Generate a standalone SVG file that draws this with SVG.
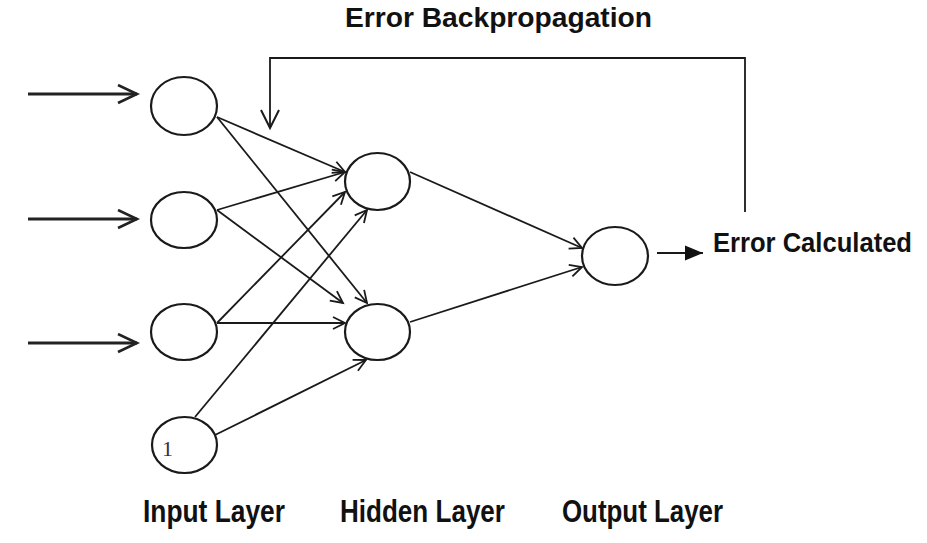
<svg xmlns="http://www.w3.org/2000/svg" width="927" height="543" viewBox="0 0 927 543">
<style>
.node{fill:#fff;stroke:#1a1a1a;stroke-width:2.2}
.edge{fill:none;stroke:#1a1a1a;stroke-width:1.8}
.inarrow{fill:none;stroke:#222;stroke-width:3}
.lbl{font-family:"Liberation Sans",Arial,sans-serif;font-weight:bold;fill:#111}
</style>
<defs>
<marker id="open" markerUnits="userSpaceOnUse" markerWidth="16" markerHeight="16" refX="13" refY="7" orient="auto" viewBox="0 0 16 16">
<path d="M1,1 L13,7 L1,13" fill="none" stroke="#1a1a1a" stroke-width="1.8"/>
</marker>
<marker id="openBig" markerUnits="userSpaceOnUse" markerWidth="24" markerHeight="24" refX="20" refY="10" orient="auto" viewBox="0 0 24 24">
<path d="M1,1 L20,10 L1,19" fill="none" stroke="#222" stroke-width="2.6"/>
</marker>
<marker id="openBack" markerUnits="userSpaceOnUse" markerWidth="24" markerHeight="24" refX="19" refY="10" orient="auto" viewBox="0 0 24 24">
<path d="M1,1 L19,10 L1,19" fill="none" stroke="#1a1a1a" stroke-width="2"/>
</marker>
<marker id="filled" markerUnits="userSpaceOnUse" markerWidth="20" markerHeight="16" refX="18" refY="8" orient="auto" viewBox="0 0 20 16">
<path d="M0,0.5 L18,8 L0,15.5 Z" fill="#111"/>
</marker>
</defs>

<g id="connectors">
<line class="inarrow" x1="28" y1="94" x2="137" y2="94" marker-end="url(#openBig)"/>
<line class="inarrow" x1="28" y1="219" x2="137" y2="219" marker-end="url(#openBig)"/>
<line class="inarrow" x1="28" y1="343" x2="137" y2="343" marker-end="url(#openBig)"/>

<line class="edge" x1="217" y1="117" x2="345" y2="172" marker-end="url(#open)"/>
<line class="edge" x1="217" y1="117" x2="367" y2="303" marker-end="url(#open)"/>
<line class="edge" x1="217" y1="210" x2="345" y2="172" marker-end="url(#open)"/>
<line class="edge" x1="217" y1="210" x2="343" y2="303" marker-end="url(#open)"/>
<line class="edge" x1="217" y1="323" x2="345" y2="192" marker-end="url(#open)"/>
<line class="edge" x1="217" y1="323" x2="345" y2="323" marker-end="url(#open)"/>
<line class="edge" x1="195" y1="417" x2="367" y2="210" marker-end="url(#open)"/>
<line class="edge" x1="215" y1="435" x2="366" y2="360" marker-end="url(#open)"/>

<line class="edge" x1="410" y1="172" x2="582" y2="248" marker-end="url(#open)"/>
<line class="edge" x1="410" y1="322" x2="582" y2="267" marker-end="url(#open)"/>

<line class="edge" x1="657" y1="253" x2="703" y2="253" stroke-width="2.2" marker-end="url(#filled)"/>

<path class="edge" d="M745,212 V58 H270 V128" stroke-width="2" marker-end="url(#openBack)"/>
</g>

<g id="input1"><ellipse class="node" cx="184" cy="106" rx="33" ry="29"/></g>
<g id="input2"><ellipse class="node" cx="184" cy="220" rx="33" ry="28"/></g>
<g id="input3"><ellipse class="node" cx="184" cy="332" rx="33" ry="28"/></g>
<g id="bias"><ellipse class="node" cx="184.5" cy="445" rx="32.5" ry="28"/>
<text x="162" y="456" font-family="'Liberation Serif',serif" font-size="22" fill="#333">1</text></g>
<g id="hidden1"><ellipse class="node" cx="377.5" cy="181.5" rx="32.5" ry="28.5"/></g>
<g id="hidden2"><ellipse class="node" cx="377.5" cy="332" rx="32.5" ry="28"/></g>
<g id="output"><ellipse class="node" cx="615" cy="256" rx="33" ry="29"/></g>

<g id="labels">
<text class="lbl" x="345" y="27" font-size="27" textLength="307" lengthAdjust="spacingAndGlyphs">Error Backpropagation</text>
<text class="lbl" x="713" y="252" font-size="27" textLength="199" lengthAdjust="spacingAndGlyphs">Error Calculated</text>
<text class="lbl" x="143" y="522" font-size="31" textLength="142" lengthAdjust="spacingAndGlyphs">Input Layer</text>
<text class="lbl" x="340" y="522" font-size="31" textLength="165" lengthAdjust="spacingAndGlyphs">Hidden Layer</text>
<text class="lbl" x="562" y="522" font-size="31" textLength="161" lengthAdjust="spacingAndGlyphs">Output Layer</text>
</g>
</svg>
